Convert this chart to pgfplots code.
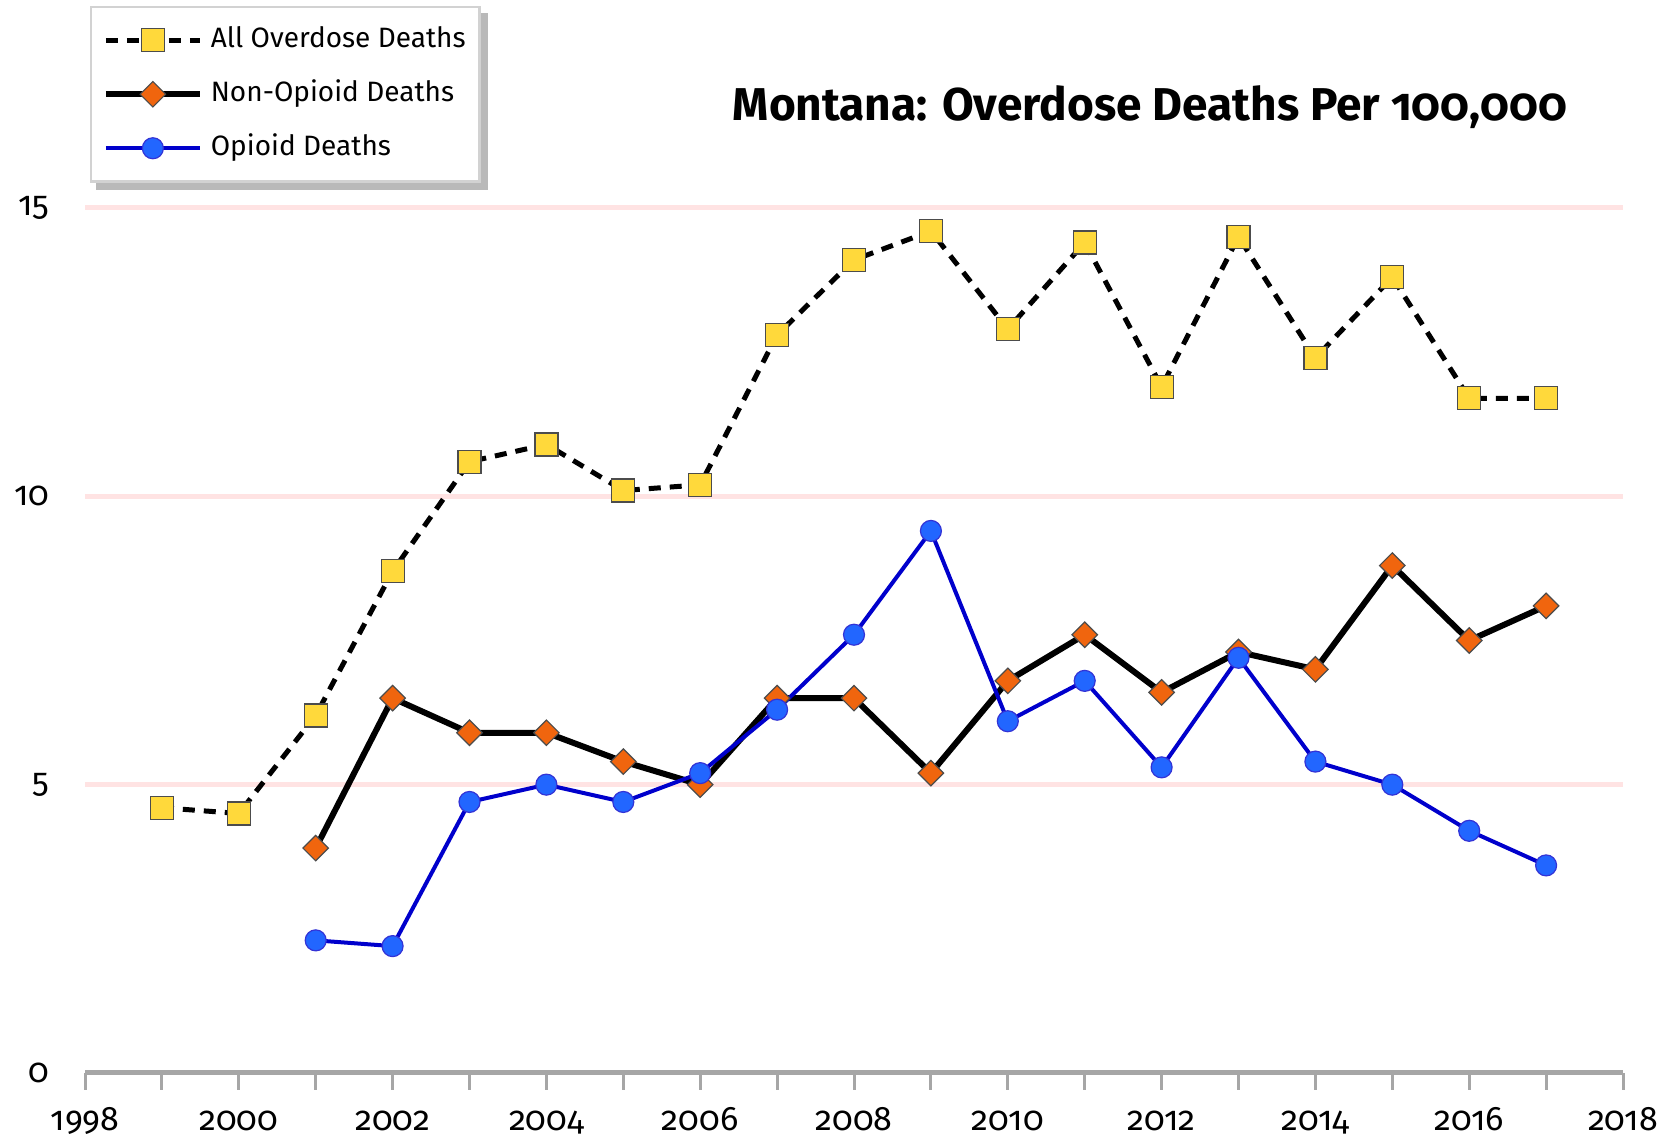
\documentclass[border=0pt]{standalone}
\usepackage{fontspec}
\setmainfont{Fira Sans}[Numbers=OldStyle]
\usepackage{pgfplots}
\pgfplotsset{compat=1.18}
\definecolor{gridpink}{HTML}{FFE3E3}
\definecolor{axgray}{HTML}{A6A6A6}
\definecolor{myyellow}{HTML}{FFD93B}
\definecolor{myorange}{HTML}{F0650E}
\definecolor{myblue}{HTML}{2266FF}
\definecolor{lineblue}{HTML}{0000CC}
\begin{document}
\begin{tikzpicture}[x=1pt,y=1pt]
\useasboundingbox (0,0) rectangle (1673,1139);
\fill[gray!55] (96,949) rectangle (488,1126);
\begin{axis}[
  at={(85pt,66pt)}, anchor=south west,
  scale only axis, width=1538pt, height=865pt,
  xmin=1998, xmax=2018, ymin=0, ymax=15,
  clip=false,
  axis x line=bottom, axis y line=left,
  x axis line style={-, draw=axgray, line width=5pt},
  y axis line style={draw=none},
  xtick={1998,2000,...,2018},
  minor xtick={1999,2001,...,2017},
  ytick={0,5,10,15},
  tick align=outside,
  major tick length=17pt, minor tick length=17pt,
  x tick style={draw=axgray, line width=3pt},
  y tick style={draw=none},
  ymajorgrids,
  grid style={draw=gridpink, line width=5pt},
  /pgf/number format/assume math mode=true,
  /pgf/number format/1000 sep={},
  tick label style={font=\fontsize{34}{40}\selectfont},
  xticklabel style={anchor=base, yshift=-41pt},
  yticklabel style={anchor=east, xshift=-15pt},
  legend style={at={(0.003,1.2335)}, anchor=north west,
    draw=gray!35, line width=2.5pt, fill=white,
    font=\fontsize{28}{33}\selectfont,
    inner xsep=12pt, inner ysep=17pt, row sep=22pt,
    legend cell align=left,
    nodes={inner sep=2pt, text height=21pt, text depth=7pt},
    /tikz/every odd column/.append style={column sep=6pt}},
  legend image code/.code={\draw[mark repeat=2,mark phase=2,#1] plot coordinates {(0pt,0pt) (47pt,0pt) (94pt,0pt)};},
]
\addplot[black, line width=5pt, dash pattern=on 12pt off 9pt,
  mark=square*, mark size=11.5pt,
  mark options={solid, fill=myyellow, draw=black!70, line width=1.2pt}]
coordinates {(1999,4.6)(2000,4.5)(2001,6.2)(2002,8.7)(2003,10.6)(2004,10.9)(2005,10.1)(2006,10.2)(2007,12.8)(2008,14.1)(2009,14.6)(2010,12.9)(2011,14.4)(2012,11.9)(2013,14.5)(2014,12.4)(2015,13.8)(2016,11.7)(2017,11.7)};
\addlegendentry{All Overdose Deaths}
\addplot[black, line width=6pt,
  mark=square*, mark size=9pt,
  mark options={solid, rotate=45, fill=myorange, draw=black!70, line width=1.2pt}]
coordinates {(2001,3.9)(2002,6.5)(2003,5.9)(2004,5.9)(2005,5.4)(2006,5.0)(2007,6.5)(2008,6.5)(2009,5.2)(2010,6.8)(2011,7.6)(2012,6.6)(2013,7.3)(2014,7.0)(2015,8.8)(2016,7.5)(2017,8.1)};
\addlegendentry{Non-Opioid Deaths}
\addplot[lineblue, line width=4pt,
  mark=*, mark size=10.5pt,
  mark options={solid, fill=myblue, draw=lineblue!80, line width=1.2pt}]
coordinates {(2001,2.3)(2002,2.2)(2003,4.7)(2004,5.0)(2005,4.7)(2006,5.2)(2007,6.3)(2008,7.6)(2009,9.4)(2010,6.1)(2011,6.8)(2012,5.3)(2013,7.2)(2014,5.4)(2015,5.0)(2016,4.2)(2017,3.6)};
\addlegendentry{Opioid Deaths}
\end{axis}
\node[font=\bfseries\fontsize{46}{54}\selectfont] at (1150,1032) {Montana: Overdose Deaths Per 100,000};
\end{tikzpicture}
\end{document}
